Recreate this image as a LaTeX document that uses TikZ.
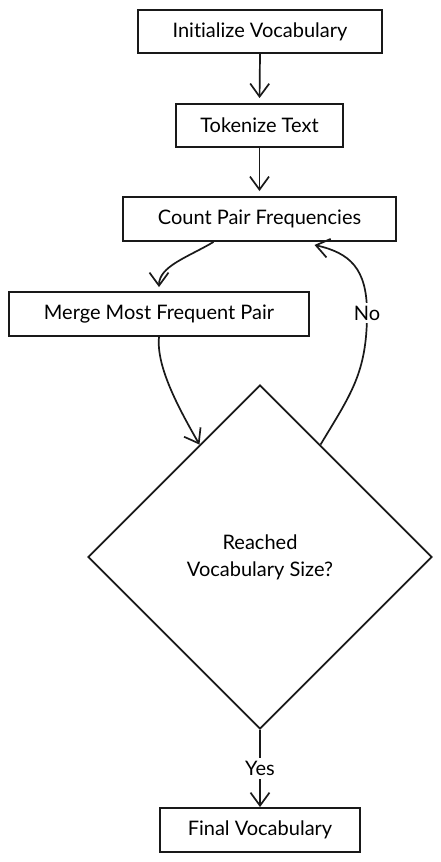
\documentclass[tikz,border=0pt]{standalone}
\usepackage{fontspec}
\setmainfont{Lato}[Ligatures={NoCommon}]
\usetikzlibrary{shapes.geometric,arrows.meta,calc}
\begin{document}
\begin{tikzpicture}[x={(1pt,0pt)},y={(0pt,-1pt)},
  ink/.style={draw=black!90, line width=1.9pt},
  stepbox/.style={ink, rectangle, inner sep=0pt, font=\fontsize{20}{24}\selectfont, align=center},
  decision/.style={ink, diamond, inner sep=0pt, minimum width=344pt, minimum height=344pt, font=\fontsize{20}{27}\selectfont, align=center},
  flow/.style={draw=black!90, line width=1.7pt, -{Straight Barb[length=13pt,width=19pt,line width=1.7pt]}},
  lbl/.style={fill=white, inner sep=3pt, font=\fontsize{20}{24}\selectfont}]
\useasboundingbox (0,0) rectangle (441,862);
\fill[white] (0,0) rectangle (441,862);

\node[stepbox, minimum width=244pt, minimum height=43pt] (init) at (260,31.5) {Initialize Vocabulary};
\node[stepbox, minimum width=167pt, minimum height=43pt] (tok) at (259.5,125.5) {Tokenize Text};
\node[stepbox, minimum width=273pt, minimum height=44pt] (count) at (259.5,219) {Count Pair Frequencies};
\node[stepbox, minimum width=300pt, minimum height=44pt] (merge) at (159,314) {Merge Most Frequent Pair};
\node[decision] (dec) at (260,557) {Reached\\Vocabulary Size?};
\node[stepbox, minimum width=200pt, minimum height=44pt] (final) at (260,830) {Final Vocabulary};

\draw[flow, shorten >=5pt] (init.south) -- (tok.north);
\draw[flow, shorten >=5pt] (tok.south) -- (count.north);
\draw[flow, shorten >=4pt] ([xshift=-46pt]count.south) .. controls +(-25,15) and +(0,-25) .. (merge.north);
\draw[flow] (merge.south) .. controls +(-3,30) and +(-20,-35) .. ($(dec.north)!0.35!(dec.west)$);
\draw[flow] ($(dec.north)!0.35!(dec.east)$) .. controls +(30,-50) and +(0,60) .. (367,313)
   node[lbl] {No}
   .. controls +(0,-45) and +(35,8) .. ([xshift=55pt,yshift=-3pt]count.south);
\draw[flow] (dec.south) -- node[lbl, pos=0.5] {Yes} (final.north);
\end{tikzpicture}
\end{document}
